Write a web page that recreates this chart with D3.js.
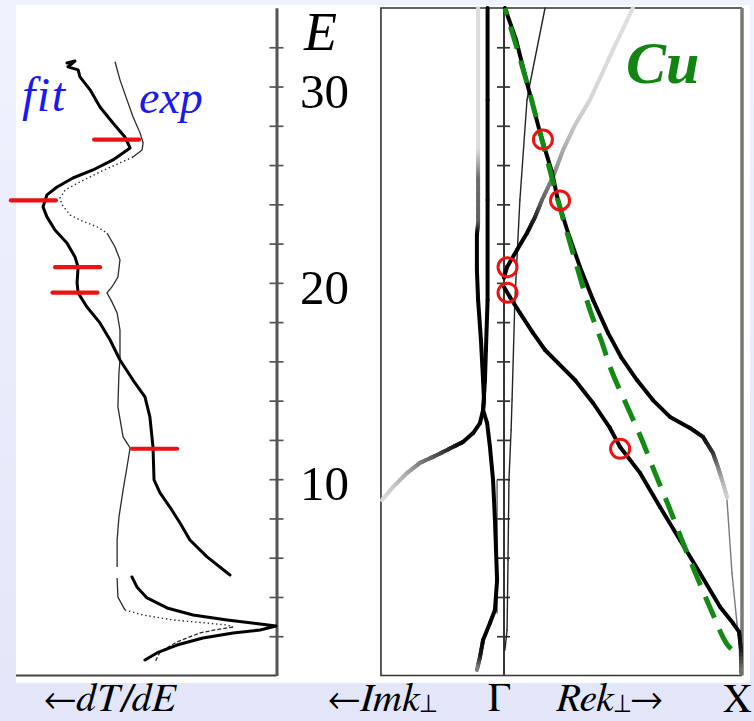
<!DOCTYPE html>
<html>
<head>
<meta charset="utf-8">
<script src="https://cdn.jsdelivr.net/npm/d3@7/dist/d3.min.js"></script>
<style>
  html, body { margin: 0; padding: 0; }
  body { width: 754px; height: 721px; overflow: hidden; background: #eceffc; }
  svg { display: block; }
  text { font-family: "Liberation Serif", "Times New Roman", serif; }
  text.caption { font-family: FreeSerif, "Liberation Serif", serif; }
</style>
</head>
<body>
<svg id="fig" width="754" height="721"></svg>
<script>
// ---------- data ----------
// energy axis (eV)
const energyTicks = [2, 4, 6, 8, 10, 12, 14, 16, 18, 20, 22, 24, 26, 28, 30, 32];
const energyLabels = [10, 20, 30];

// left panel: -dT/dE spectra, points are [E (eV), -dT/dE (arb. units)]
const fitUpper = [
  [31.20, 8.06], [31.30, 7.75], [31.00, 8.02], [30.85, 7.63], [30.49, 7.56], [29.83, 7.17],
  [28.96, 6.79], [28.14, 6.29], [27.43, 5.83], [26.87, 5.63], [26.26, 6.29], [25.75, 7.06],
  [25.34, 7.83], [24.88, 8.44], [24.48, 8.83], [23.87, 8.98], [23.36, 8.83], [22.69, 8.52],
  [22.03, 8.06], [21.32, 7.75], [20.81, 7.63], [20.00, 7.67], [19.49, 7.63], [18.77, 7.29],
  [17.96, 6.79], [17.09, 6.40], [16.07, 6.02], [15.05, 5.52], [14.19, 5.06], [13.17, 4.87],
  [11.64, 4.75], [9.96, 4.71], [9.30, 4.48], [8.58, 4.10], [7.77, 3.71], [6.90, 3.33],
  [6.04, 2.67], [5.12, 1.79]
];
const fitLower = [
  [5.02, 5.56], [4.51, 5.37], [3.95, 4.98], [3.44, 4.21], [3.08, 3.21], [2.83, 1.90],
  [2.62, 0.63], [2.52, 0.02], [2.32, 0.63], [2.17, 1.67], [1.91, 2.83], [1.55, 3.83],
  [1.15, 4.60], [0.79, 5.06]
];
const expUpper = [
  [31.26, 6.21], [30.34, 6.02], [29.32, 5.75], [28.46, 5.52], [27.64, 5.25], [27.13, 5.13],
  [26.77, 5.17], [26.41, 5.52]
];
const expDip = [
  [26.41, 5.52], [26.11, 6.02], [25.65, 6.79], [25.14, 7.56], [24.73, 8.13], [24.32, 8.33],
  [23.97, 8.25], [23.46, 7.94], [23.20, 7.56], [22.85, 6.90], [22.54, 6.52]
];
const expMiddle = [
  [22.54, 6.52], [21.83, 6.21], [21.17, 6.02], [20.30, 6.10], [19.79, 6.33], [19.49, 6.52],
  [19.03, 6.33], [18.47, 6.13], [17.60, 6.02], [16.07, 6.02], [15.41, 6.06], [13.68, 6.10],
  [12.15, 5.90], [11.59, 5.63], [10.62, 5.75], [9.45, 5.90], [8.07, 6.06], [6.90, 6.13],
  [5.53, 6.13]
];
const expFoot = [[4.97, 6.13], [4.00, 6.10], [3.34, 5.83]];
const expPeak = [[3.34, 5.83], [3.08, 5.13], [2.83, 3.98], [2.67, 2.67], [2.57, 1.90], [2.47, 1.67]];
const expTail = [[2.47, 1.67], [2.32, 2.37], [2.17, 2.94], [1.71, 3.83], [1.20, 4.48], [0.69, 4.67]];

// right panel: complex band structure along Gamma-X, points are [k (2pi/a), E (eV), current weight]
// negative k = Im k (evanescent), positive k = Re k
const bandA = [
  [-0.067, 34.0, 1], [-0.067, 29.32, 1], [-0.067, 24.22, 1], [-0.067, 19.13, 1], [-0.074, 16.58, 1],
  [-0.078, 15.05, 1], [-0.086, 13.52, 1], [-0.069, 12.86, 1], [-0.057, 11.64, 1], [-0.044, 9.96, 1],
  [-0.036, 7.92, 1], [-0.027, 4.86, 1], [-0.036, 3.34, 1], [-0.057, 2.67, 1], [-0.086, 1.81, 1],
  [-0.099, 0.94, 0.9], [-0.112, 0.28, 0.45]
];
const bandA2 = [
  [-0.107, 34.0, 0.09], [-0.107, 26.77, 0.09], [-0.107, 26.01, 0.3], [-0.107, 25.24, 0.55],
  [-0.107, 23.05, 0.6], [-0.112, 22.44, 1], [-0.112, 20.66, 1], [-0.107, 19.13, 1],
  [-0.095, 17.09, 1], [-0.086, 15.05, 1], [-0.082, 14.03, 1], [-0.086, 13.52, 1]
];
const bandB = [
  [-0.086, 13.52, 1], [-0.099, 12.86, 1], [-0.128, 12.35, 1], [-0.171, 11.89, 1], [-0.213, 11.64, 0.9],
  [-0.280, 11.23, 0.7], [-0.352, 10.83, 0.5], [-0.406, 10.32, 0.32], [-0.465, 9.60, 0.18], [-0.512, 8.94, 0.1]
];
const bandD = [
  [0.006, 34.0, 1], [0.053, 32.37, 1], [0.099, 30.18, 1], [0.154, 27.64, 1], [0.205, 25.60, 1],
  [0.229, 24.22, 1], [0.272, 22.54, 1], [0.322, 20.81, 1], [0.377, 19.13, 1], [0.440, 17.45, 1],
  [0.495, 16.22, 1], [0.562, 15.05, 1], [0.629, 14.03, 1], [0.701, 13.17, 1], [0.785, 12.61, 1],
  [0.840, 12.15, 0.95], [0.882, 11.33, 0.8], [0.903, 10.62, 0.5], [0.924, 9.81, 0.25], [0.941, 9.09, 0.15]
];
const bandE = [
  [0.002, 20.25, 1], [0.015, 20.81, 1], [0.057, 21.68, 1], [0.099, 22.54, 1], [0.133, 23.36, 0.85],
  [0.162, 24.22, 0.6], [0.208, 25.39, 0.45], [0.251, 26.77, 0.3], [0.301, 28.04, 0.18],
  [0.364, 29.32, 0.12], [0.461, 31.87, 0.09], [0.545, 34.0, 0.08]
];
const bandF = [
  [0.002, 19.79, 1], [0.027, 19.28, 1], [0.069, 18.47, 1], [0.124, 17.45, 1], [0.175, 16.58, 1],
  [0.229, 15.92, 1], [0.301, 15.05, 1], [0.377, 13.88, 1], [0.448, 12.61, 1], [0.491, 11.64, 1],
  [0.575, 10.32, 1], [0.659, 8.58, 1], [0.743, 6.90, 1], [0.827, 5.22, 1], [0.912, 3.49, 1],
  [0.966, 2.67, 1], [0.992, 2.22, 1], [1.0, 1.30, 0.9], [1.0, 0.13, 0.5]
];
// weakly coupled branches
const thinT1 = [
  [0.175, 34.0, 0.85], [0.112, 30.18, 0.85], [0.099, 29.32, 0.85], [0.069, 24.22, 0.85], [0.048, 19.13, 0.85],
  [0.036, 14.03, 0.85], [0.032, 12.51, 0.85], [0.023, 9.96, 0.85], [0.019, 5.88, 0.85], [0.015, 2.32, 0.85],
  [0.006, 1.30, 0.85]
];
const thinT2 = [[-0.027, 9.96, 0.6], [-0.027, 3.18, 0.6]];
const thinDTail = [[0.941, 8.94, 0.5], [0.962, 5.22, 0.5], [0.983, 2.67, 0.5], [0.992, 1.81, 0.5], [0.996, 0.13, 0.5]];

// free-electron-like dispersion (dashed)
const freeElectron = [
  [0.006, 34.0], [0.099, 30.18], [0.162, 27.28], [0.229, 24.22], [0.301, 21.17], [0.364, 18.62],
  [0.411, 17.09], [0.457, 15.46], [0.520, 13.73], [0.583, 12.00], [0.638, 10.32], [0.697, 8.58],
  [0.756, 6.75], [0.815, 5.02], [0.874, 3.34], [0.941, 1.60], [0.987, 1.04]
];

// spectral structures: energy, k position on the band, -dT/dE at the structure
const markE = [27.3, 24.2, 20.8, 19.5, 11.55];
const markK = [0.166, 0.238, 0.017, 0.017, 0.491];
const markDT = [6.15, 9.35, 7.65, 7.75, 4.69];

// ---------- scales ----------
const W = 754, H = 721;
const eY = d3.scaleLinear().domain([0, 34]).range([675.5, 8]);
const dtX = d3.scaleLinear().domain([0, 10]).range([276.5, 16.5]);
const kX = d3.scaleLinear().domain([0, 1]).range([503.5, 741]);
const shade = d3.scaleLinear().domain([0, 1]).range(["#f2f2f2", "#000000"]);
const kMin = -0.516;

const svg = d3.select("#fig");
const defs = svg.append("defs");
const bg = defs.append("linearGradient").attr("id", "bg")
  .attr("x1", 0).attr("y1", 0).attr("x2", 0).attr("y2", 1);
bg.append("stop").attr("offset", "0%").attr("stop-color", "#f0f2fd");
bg.append("stop").attr("offset", "100%").attr("stop-color", "#e2e6f8");
svg.append("rect").attr("width", W).attr("height", H).attr("fill", "url(#bg)");
svg.append("rect").attr("x", 16).attr("y", 5).attr("width", 734).attr("height", 678).attr("fill", "#fff");

function styleAxis(g, color, w) {
  g.select(".domain").attr("stroke", color).attr("stroke-width", w);
  g.selectAll(".tick line").attr("stroke", color).attr("stroke-width", 1.7);
}

// ---------- left panel: -dT/dE ----------
const left = svg.append("g");
left.append("line")
  .attr("x1", 16).attr("x2", dtX(0)).attr("y1", eY(0)).attr("y2", eY(0))
  .attr("stroke", "#444").attr("stroke-width", 2);

const axisL = d3.axisLeft(eY).tickValues(energyTicks).tickSize(7).tickSizeOuter(0).tickFormat("");
const axisR = d3.axisRight(eY).tickValues(energyTicks).tickSize(7).tickSizeOuter(0).tickFormat("");
left.append("g").attr("transform", `translate(${dtX(0)},0)`).call(axisL).call(styleAxis, "#555", 2.6);
left.append("g").attr("transform", `translate(${dtX(0)},0)`).call(axisR).call(styleAxis, "#555", 2.6);

const dtLine = d3.line().x(d => dtX(d[1])).y(d => eY(d[0]));

[expUpper, expMiddle, expFoot].forEach(s => left.append("path").datum(s).attr("d", dtLine)
  .attr("fill", "none").attr("stroke", "#2a2a2a").attr("stroke-width", 1.3));
[expDip, expPeak].forEach(s => left.append("path").datum(s).attr("d", dtLine)
  .attr("fill", "none").attr("stroke", "#2a2a2a").attr("stroke-width", 1.4)
  .attr("stroke-dasharray", "1.4 2.8"));
left.append("path").datum(expTail).attr("d", dtLine)
  .attr("fill", "none").attr("stroke", "#2a2a2a").attr("stroke-width", 1.3)
  .attr("stroke-dasharray", "4 2");

[fitUpper, fitLower].forEach(s => left.append("path").datum(s).attr("d", dtLine)
  .attr("fill", "none").attr("stroke", "#000").attr("stroke-width", 3)
  .attr("stroke-linejoin", "round").attr("stroke-linecap", "round"));

// markers at the spectral structures
markE.forEach((e, i) => {
  const cx = dtX(markDT[i]);
  left.append("line").attr("x1", cx - 22.5).attr("x2", cx + 22.5)
    .attr("y1", eY(e)).attr("y2", eY(e))
    .attr("stroke", "#ee1111").attr("stroke-width", 4.2).attr("stroke-linecap", "round");
});

left.append("text").attr("x", 22).attr("y", 111)
  .attr("font-style", "italic").attr("font-size", 48).attr("letter-spacing", 1.5)
  .attr("fill", "#1a1aee").text("fit");
left.append("text").attr("x", 139).attr("y", 113)
  .attr("font-style", "italic").attr("font-size", 46).attr("fill", "#1a1aee").text("exp");

// energy axis labels
svg.append("text").attr("x", 304).attr("y", 50)
  .attr("font-style", "italic").attr("font-size", 54).attr("fill", "#000").text("E");
svg.selectAll("text.elab").data(energyLabels).enter().append("text")
  .attr("class", "elab").attr("x", 300).attr("y", d => eY(d) + 21)
  .attr("font-size", 49).attr("fill", "#000").text(d => d);

// ---------- right panel: complex band structure ----------
const right = svg.append("g");
const xL = kX(kMin), xR = kX(1) + 1, yT = eY(34), yB = eY(0);
right.append("path").attr("d", `M${xR},${yT}H${xL}V${yB}H${xR}`)
  .attr("fill", "none").attr("stroke", "#333").attr("stroke-width", 1.6);
right.append("line").attr("x1", xR).attr("x2", xR).attr("y1", yT).attr("y2", yB)
  .attr("stroke", "#777").attr("stroke-width", 3.5);

// Gamma line with energy ticks
const gAxL = d3.axisLeft(eY).tickValues(energyTicks).tickSize(6.5).tickSizeOuter(0).tickFormat("");
const gAxR = d3.axisRight(eY).tickValues(energyTicks).tickSize(6.5).tickSizeOuter(0).tickFormat("");
right.append("g").attr("transform", `translate(${kX(0)},0)`).call(gAxL).call(styleAxis, "#333", 1.8);
right.append("g").attr("transform", `translate(${kX(0)},0)`).call(gAxR).call(styleAxis, "#333", 1.8);

function drawBand(g, pts, width) {
  const n = 6;
  for (let i = 0; i < pts.length - 1; i++) {
    const [k0, e0, w0] = pts[i], [k1, e1, w1] = pts[i + 1];
    const steps = (w0 === w1) ? 1 : n;
    for (let j = 0; j < steps; j++) {
      const t0 = j / steps, t1 = (j + 1) / steps, tm = (t0 + t1) / 2;
      g.append("line")
        .attr("x1", kX(k0 + (k1 - k0) * t0)).attr("y1", eY(e0 + (e1 - e0) * t0))
        .attr("x2", kX(k0 + (k1 - k0) * t1)).attr("y2", eY(e0 + (e1 - e0) * t1))
        .attr("stroke", shade(w0 + (w1 - w0) * tm))
        .attr("stroke-width", width).attr("stroke-linecap", "round");
    }
  }
}

const bands = right.append("g");
[thinT1, thinT2, thinDTail].forEach(b => drawBand(bands, b, 1.4));
[bandA2, bandB, bandA, bandE, bandF, bandD].forEach(b => drawBand(bands, b, 4));

const feLine = d3.line().x(d => kX(d[0])).y(d => eY(d[1])).curve(d3.curveCatmullRom);
right.append("path").datum(freeElectron).attr("d", feLine)
  .attr("fill", "none").attr("stroke", "#138a13").attr("stroke-width", 5)
  .attr("stroke-dasharray", "23 12.5").attr("stroke-dashoffset", 16);

markE.forEach((e, i) => {
  right.append("circle").attr("cx", kX(markK[i])).attr("cy", eY(e)).attr("r", 9.5)
    .attr("fill", "none").attr("stroke", "#ee1111").attr("stroke-width", 3);
});

right.append("text").attr("x", 626).attr("y", 83)
  .attr("font-style", "italic").attr("font-weight", "bold").attr("font-size", 60)
  .attr("fill", "#118411").text("Cu");

// ---------- bottom axis captions ----------
const capY = 711;
const capSize = 40;
function caption(x) {
  return svg.append("text").attr("class", "caption").attr("x", x).attr("y", capY)
    .attr("font-size", capSize).attr("fill", "#000");
}
const c1 = caption(44);
c1.append("tspan").text("\u2190");
c1.append("tspan").attr("font-style", "italic").text("dT/dE");

const c2 = caption(328);
c2.append("tspan").text("\u2190");
c2.append("tspan").attr("font-style", "italic").text("Imk");
c2.append("tspan").attr("font-size", 26).attr("dy", 1).text("\u22a5");

caption(488).text("\u0393");

const c3 = caption(556);
c3.append("tspan").attr("font-style", "italic").text("Rek");
c3.append("tspan").attr("font-size", 26).attr("dy", 1).text("\u22a5");
c3.append("tspan").attr("dy", -1).text("\u2192");

caption(723).text("X");
</script>
</body>
</html>
